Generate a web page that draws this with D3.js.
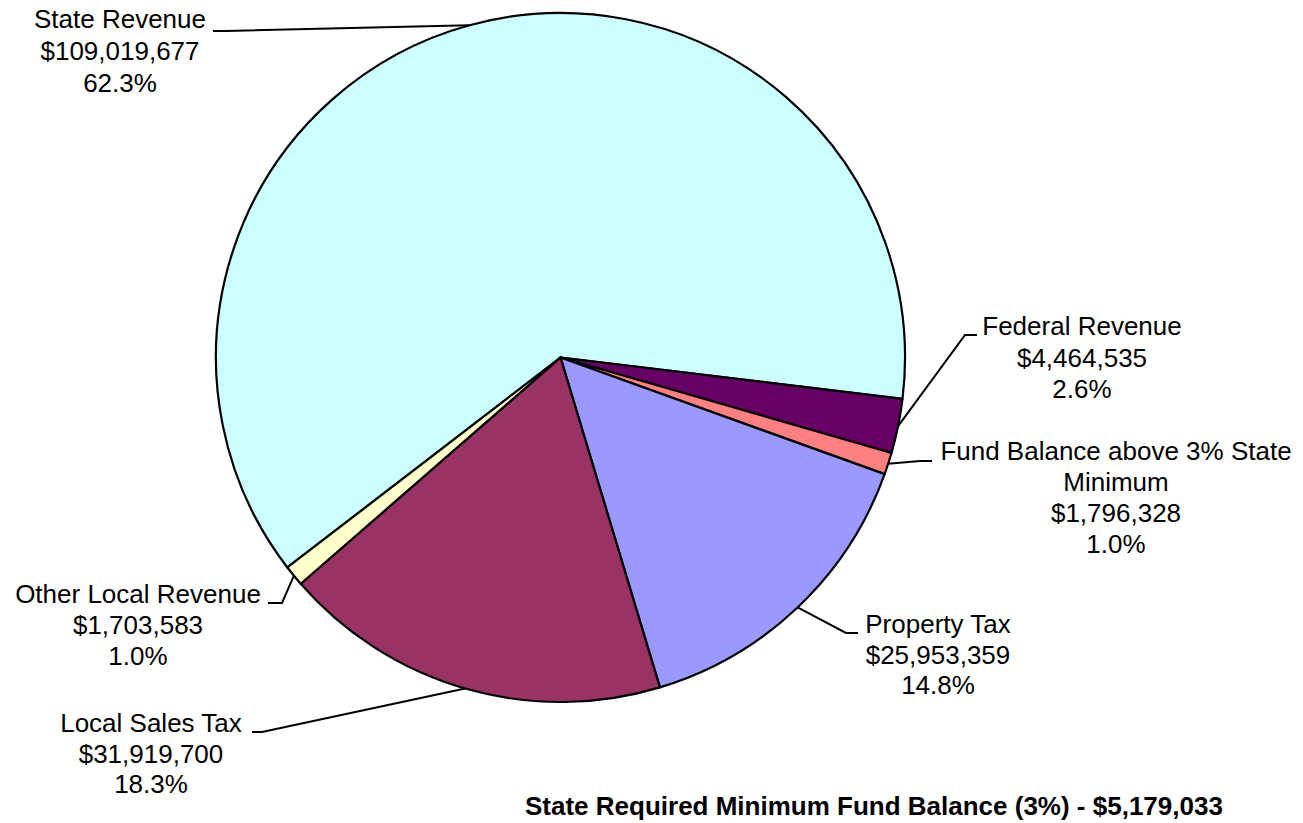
<!DOCTYPE html>
<html>
<head>
<meta charset="utf-8">
<script src="https://cdn.jsdelivr.net/npm/d3@7/dist/d3.min.js"></script>
<style>
  html, body { margin: 0; padding: 0; background: #fff; }
  svg { display: block; }
  text { font-family: "Liberation Sans", Arial, sans-serif; fill: #000; }
</style>
</head>
<body>
<svg id="chart" width="1303" height="823"></svg>
<script>
// ---- data ----
const categories = [
  "State Revenue",
  "Federal Revenue",
  "Fund Balance above 3% State Minimum",
  "Property Tax",
  "Local Sales Tax",
  "Other Local Revenue"
];
const values = [109019677, 4464535, 1796328, 25953359, 31919700, 1703583];
const valueLabels = ["$109,019,677", "$4,464,535", "$1,796,328", "$25,953,359", "$31,919,700", "$1,703,583"];
const percentLabels = ["62.3%", "2.6%", "1.0%", "14.8%", "18.3%", "1.0%"];
const footnote = "State Required Minimum Fund Balance (3%) - $5,179,033";

// ---- styles / layout ----
const colors = ["#CCFFFF", "#660066", "#FF8080", "#9999FF", "#993366", "#FFFFCC"];
const cx = 560.5, cy = 357.5, radius = 344.5;
const startDeg = -127.55;

// label layout: text centre x, first baseline y, line step, leader knee & text-edge points
const labelLayout = [
  { lines: ["State Revenue"], x: 120, y: 28, step: 32, knee: [226, 31], edge: [213, 31] },
  { lines: ["Federal Revenue"], x: 1082, y: 335, step: 31.5, knee: [965, 335], edge: [977, 335] },
  { lines: ["Fund Balance above 3% State", "Minimum"], x: 1116, y: 460, step: 31, knee: [920, 461], edge: [932, 461] },
  { lines: ["Property Tax"], x: 938, y: 633, step: 30.5, knee: [846, 633], edge: [858, 633] },
  { lines: ["Other Local Revenue"], x: 138, y: 603, step: 31, knee: [282, 603], edge: [268, 603] },
  { lines: ["Local Sales Tax"], x: 151, y: 732, step: 30.5, knee: [262, 732], edge: [252, 732] }
];
// map layout by category index
const layoutIndex = [0, 1, 2, 3, 5, 4];

const svg = d3.select("#chart");
const g = svg.append("g").attr("transform", `translate(${cx},${cy})`);

const data = categories.map((c, i) => ({ name: c, value: values[i], i }));
const start = startDeg * Math.PI / 180;
const pie = d3.pie().value(d => d.value).sort(null)
  .startAngle(start).endAngle(start + 2 * Math.PI);
const arcs = pie(data);
const arc = d3.arc().innerRadius(0).outerRadius(radius);

g.selectAll("path.slice")
  .data(arcs)
  .enter().append("path")
  .attr("class", "slice")
  .attr("d", arc)
  .attr("fill", d => colors[d.data.i])
  .attr("stroke", "#000")
  .attr("stroke-width", 2.2)
  .attr("stroke-linejoin", "round");

// leaders + labels
arcs.forEach(a => {
  const i = a.data.i;
  const L = labelLayout[layoutIndex[i]];
  const mid = (a.startAngle + a.endAngle) / 2;
  const px = cx + radius * Math.sin(mid);
  const py = cy - radius * Math.cos(mid);
  svg.append("path")
    .attr("d", d3.line()([[px, py], L.knee, L.edge]))
    .attr("fill", "none")
    .attr("stroke", "#000")
    .attr("stroke-width", 2);
  const allLines = L.lines.concat([valueLabels[i], percentLabels[i]]);
  const t = svg.append("text")
    .attr("text-anchor", "middle")
    .attr("font-size", 26);
  allLines.forEach((ln, k) => {
    t.append("tspan")
      .attr("x", L.x)
      .attr("y", L.y + k * L.step)
      .text(ln);
  });
});

svg.append("text")
  .attr("x", 525)
  .attr("y", 815)
  .attr("font-size", 26)
  .attr("font-weight", "bold")
  .text(footnote);
</script>
</body>
</html>
